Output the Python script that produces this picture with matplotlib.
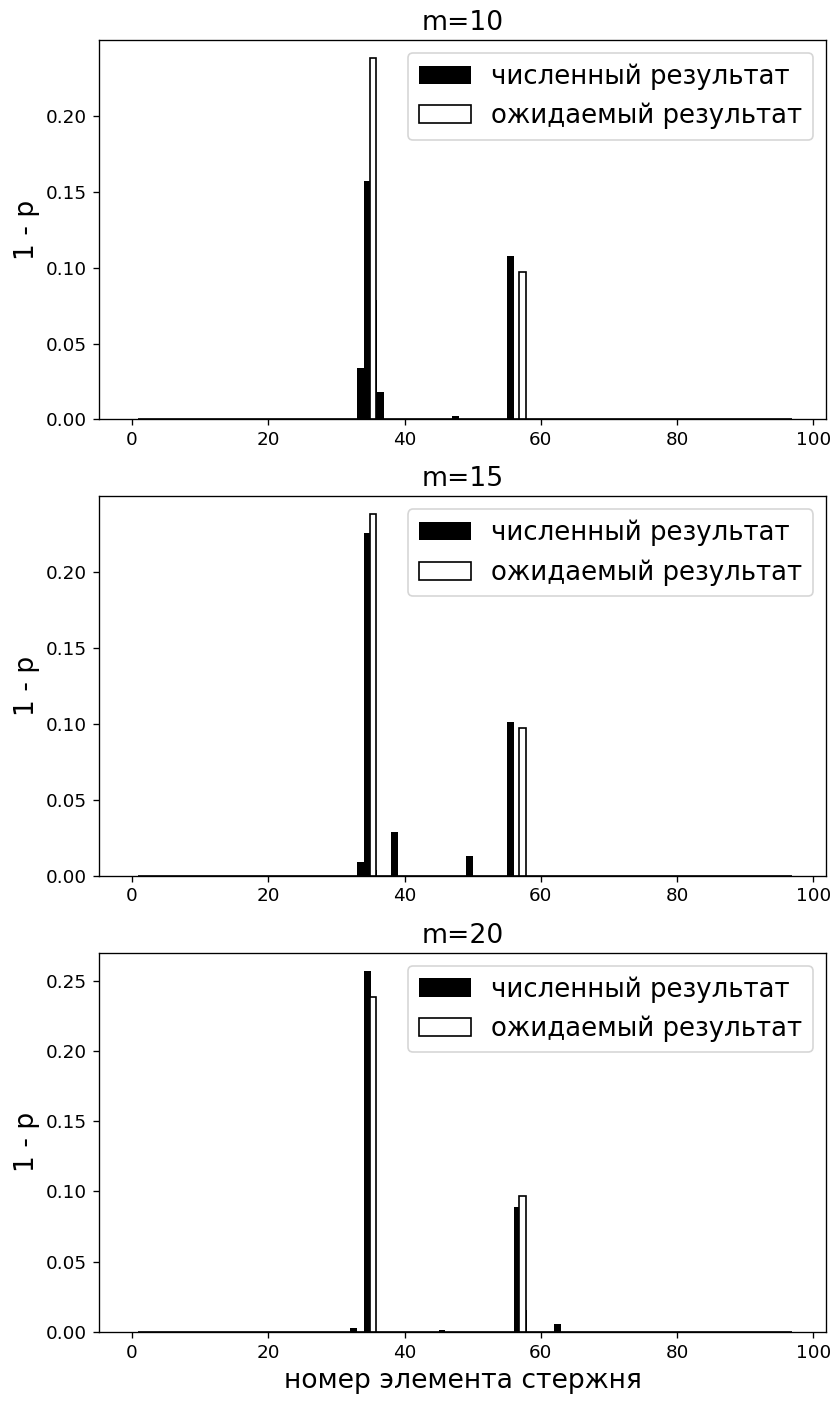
import numpy as np
import matplotlib
matplotlib.use("Agg")
import matplotlib.pyplot as plt

# number of rod elements
n_numeric = 97
expected_elems = np.arange(1, 97)

titles = ["m=10", "m=15", "m=20"]

# nonzero values of the numerical result (element index -> 1 - p)
num_idx = [
    [33, 34, 35, 36, 47, 55],
    [33, 34, 35, 38, 49, 55],
    [32, 34, 45, 56, 57, 62],
]
num_val = [
    [0.034, 0.157, 0.079, 0.018, 0.002, 0.108],
    [0.009, 0.226, 0.004, 0.029, 0.013, 0.101],
    [0.003, 0.257, 0.0012, 0.089, 0.016, 0.0055],
]

# expected result (same for every m)
exp_idx = [35, 57]
exp_val = [0.238, 0.097]
exp_shift = -0.15

fig, axes = plt.subplots(3, 1, figsize=(835/120, 1401/120), dpi=120)
plt.subplots_adjust(left=0.1186, right=0.9892, top=0.9714, bottom=0.04925, hspace=0.2026)

expected = np.zeros(len(expected_elems))
for i, v in zip(exp_idx, exp_val):
    expected[list(expected_elems).index(i)] = v

for k, ax in enumerate(axes):
    numeric = np.zeros(n_numeric)
    numeric[num_idx[k]] = num_val[k]
    ax.bar(np.arange(n_numeric), numeric, width=1, align='edge', color='black',
           label='численный результат')
    ax.bar(expected_elems + exp_shift, expected, width=1, align='edge', color='white',
           edgecolor='black', linewidth=1, label='ожидаемый результат')
    ax.set_title(titles[k], fontsize=16)
    ax.set_ylabel('1 - p', fontsize=16)
    ax.tick_params(labelsize=11)
    ax.legend(loc='upper right', fontsize=15.6)

axes[-1].set_xlabel('номер элемента стержня', fontsize=16)

fig.savefig('out.png', dpi=120)
